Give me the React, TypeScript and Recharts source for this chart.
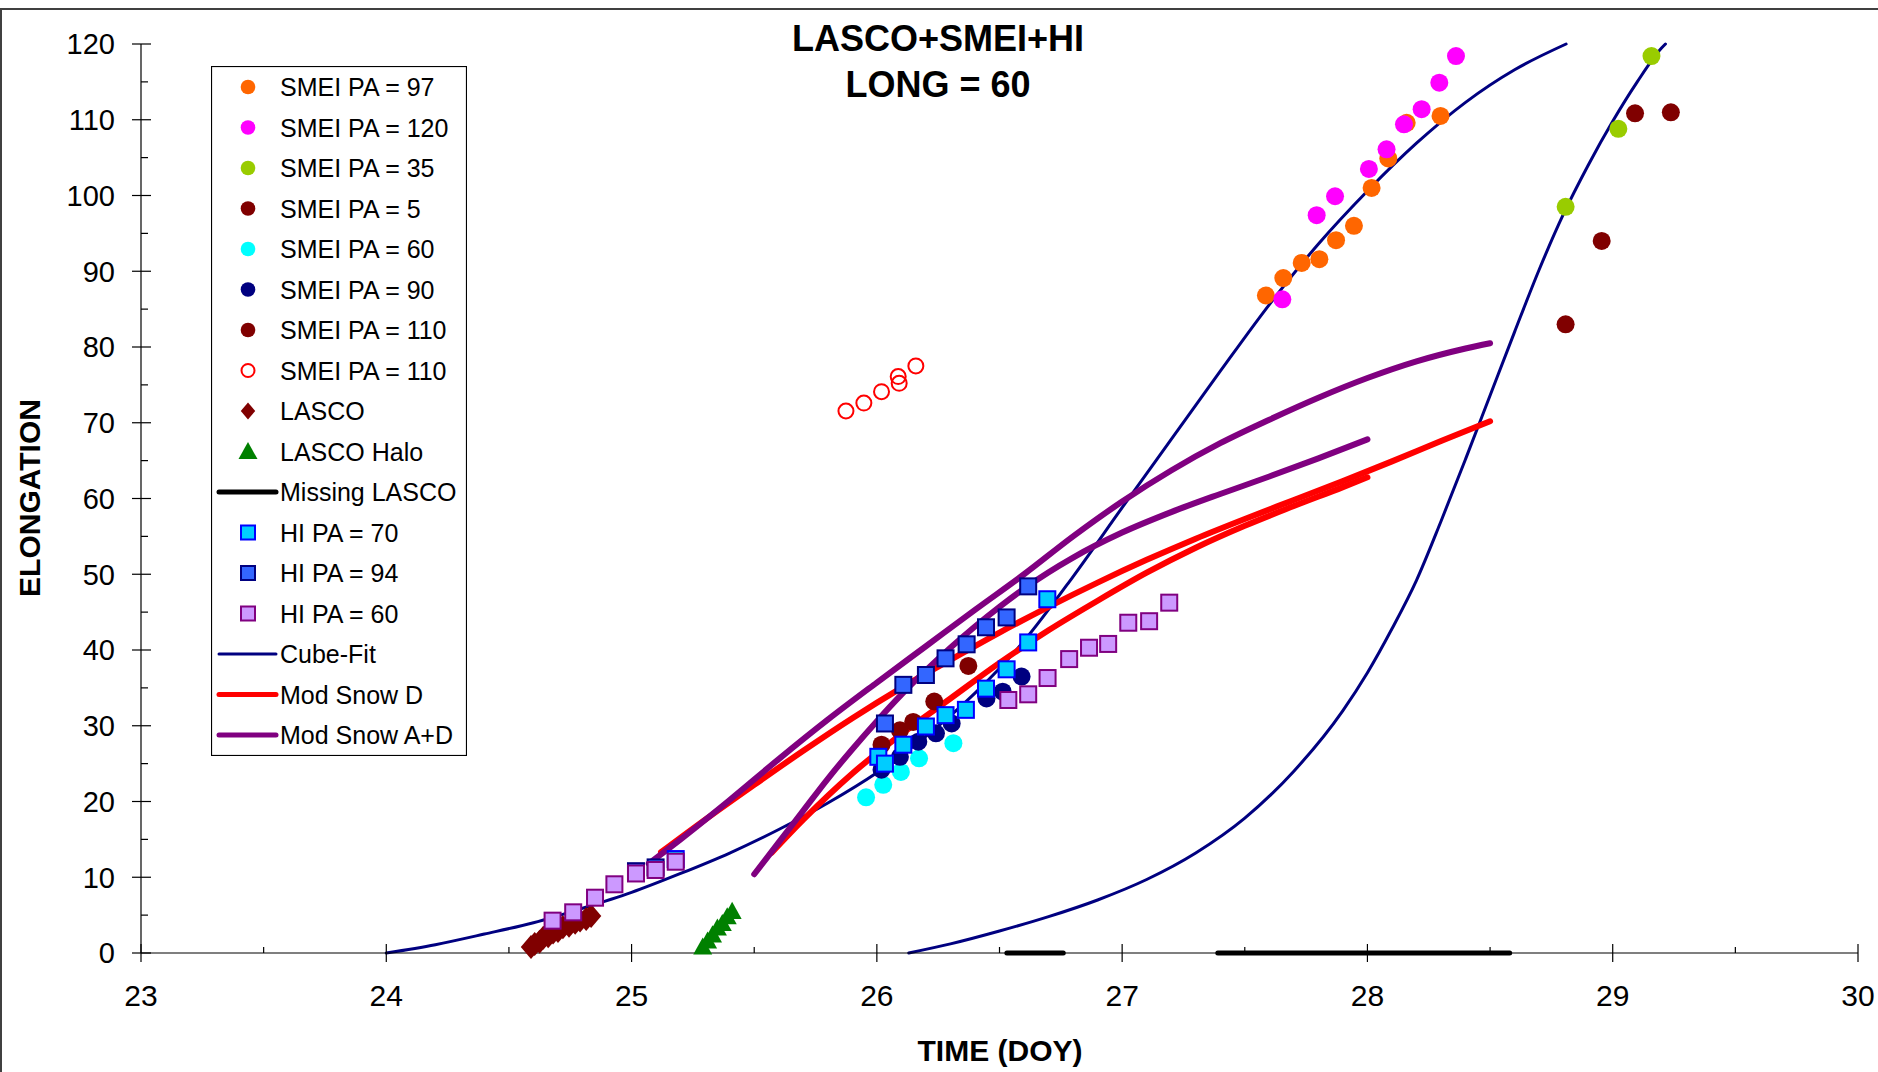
import React from 'react';
import { ComposedChart, Line, Scatter, XAxis, YAxis, Legend } from 'recharts';

// ---------- tick values ----------
const xTicks = [23, 23.5, 24, 24.5, 25, 25.5, 26, 26.5, 27, 27.5, 28, 28.5, 29, 29.5, 30];
const yTicks = [0, 5, 10, 15, 20, 25, 30, 35, 40, 45, 50, 55, 60, 65, 70, 75, 80, 85, 90, 95, 100, 105, 110, 115, 120];

// ---------- SMEI series ----------
const smeiPa97 = [
  { x: 27.586, y: 86.8 }, { x: 27.657, y: 89.1 }, { x: 27.732, y: 91.1 }, { x: 27.804, y: 91.6 },
  { x: 27.872, y: 94.1 }, { x: 27.945, y: 96.0 }, { x: 28.017, y: 101.0 }, { x: 28.085, y: 104.9 },
  { x: 28.16, y: 109.6 }, { x: 28.298, y: 110.5 },
];
const smeiPa120 = [
  { x: 27.653, y: 86.3 }, { x: 27.793, y: 97.4 }, { x: 27.868, y: 99.9 }, { x: 28.006, y: 103.5 },
  { x: 28.078, y: 106.1 }, { x: 28.149, y: 109.4 }, { x: 28.221, y: 111.4 }, { x: 28.293, y: 114.9 },
  { x: 28.361, y: 118.4 },
];
const smeiPa35 = [{ x: 28.808, y: 98.5 }, { x: 29.023, y: 108.8 }, { x: 29.158, y: 118.4 }];
const smeiPa5 = [
  { x: 26.019, y: 27.5 }, { x: 26.094, y: 29.4 }, { x: 26.148, y: 30.5 }, { x: 26.234, y: 33.2 },
  { x: 26.373, y: 37.9 },
];
const smeiPa60 = [
  { x: 25.956, y: 20.55 }, { x: 26.026, y: 22.2 }, { x: 26.098, y: 23.9 }, { x: 26.172, y: 25.7 },
  { x: 26.312, y: 27.7 },
];
const smeiPa90 = [
  { x: 26.019, y: 24.2 }, { x: 26.094, y: 25.9 }, { x: 26.169, y: 27.9 }, { x: 26.241, y: 29.0 },
  { x: 26.305, y: 30.3 }, { x: 26.447, y: 33.6 }, { x: 26.513, y: 34.5 }, { x: 26.59, y: 36.5 },
];
const smeiPa110 = [{ x: 28.808, y: 83.0 }, { x: 28.955, y: 94.0 }, { x: 29.091, y: 110.85 }, { x: 29.237, y: 110.98 }];
const smeiPa110Open = [
  { x: 25.874, y: 71.55 }, { x: 25.947, y: 72.6 }, { x: 26.019, y: 74.1 }, { x: 26.091, y: 75.2 },
  { x: 26.087, y: 76.1 }, { x: 26.159, y: 77.5 },
];

// ---------- LASCO ----------
const lasco = [
  { x: 24.59, y: 0.8 }, { x: 24.605, y: 1.2 }, { x: 24.625, y: 1.5 }, { x: 24.64, y: 2.0 },
  { x: 24.66, y: 2.2 }, { x: 24.68, y: 2.7 }, { x: 24.7, y: 2.9 }, { x: 24.72, y: 3.4 },
  { x: 24.745, y: 3.6 }, { x: 24.77, y: 4.0 }, { x: 24.79, y: 4.3 }, { x: 24.815, y: 4.5 },
  { x: 24.835, y: 4.9 },
];
const lascoHalo = [
  { x: 25.29, y: 0.8 }, { x: 25.31, y: 1.6 }, { x: 25.33, y: 2.4 }, { x: 25.35, y: 3.3 },
  { x: 25.37, y: 3.9 }, { x: 25.39, y: 4.8 }, { x: 25.41, y: 5.5 },
];
const missingLasco1 = [{ x: 26.53, y: 0 }, { x: 26.76, y: 0 }];
const missingLasco2 = [{ x: 27.39, y: 0 }, { x: 28.58, y: 0 }];

// ---------- HI ----------
const hiPa70 = [
  { x: 25.18, y: 12.4 },
  { x: 26.006, y: 25.9 }, { x: 26.033, y: 25.0 }, { x: 26.108, y: 27.5 }, { x: 26.2, y: 29.9 },
  { x: 26.28, y: 31.4 }, { x: 26.363, y: 32.1 }, { x: 26.445, y: 34.9 }, { x: 26.529, y: 37.45 },
  { x: 26.617, y: 41.0 }, { x: 26.695, y: 46.7 },
];
const hiPa94 = [
  { x: 25.018, y: 10.8 }, { x: 25.098, y: 11.3 },
  { x: 26.033, y: 30.3 }, { x: 26.108, y: 35.4 }, { x: 26.2, y: 36.7 }, { x: 26.28, y: 38.9 },
  { x: 26.366, y: 40.75 }, { x: 26.445, y: 43.0 }, { x: 26.529, y: 44.3 }, { x: 26.617, y: 48.4 },
];
const hiPa60 = [
  { x: 24.678, y: 4.27 }, { x: 24.762, y: 5.37 }, { x: 24.851, y: 7.3 }, { x: 24.93, y: 9.07 },
  { x: 25.018, y: 10.5 }, { x: 25.098, y: 10.96 }, { x: 25.18, y: 12.05 },
  { x: 26.536, y: 33.4 }, { x: 26.617, y: 34.15 }, { x: 26.696, y: 36.3 }, { x: 26.784, y: 38.8 },
  { x: 26.865, y: 40.3 }, { x: 26.943, y: 40.8 }, { x: 27.025, y: 43.6 }, { x: 27.11, y: 43.8 },
  { x: 27.192, y: 46.25 },
];

// ---------- model curves ----------
const cubeFit1 = [
  { x: 24.0, y: 0 }, { x: 24.2, y: 1.1 }, { x: 24.4, y: 2.5 }, { x: 24.6, y: 4.0 }, { x: 24.8, y: 5.9 },
  { x: 25.0, y: 8.0 }, { x: 25.2, y: 10.5 }, { x: 25.4, y: 13.2 }, { x: 25.6, y: 16.3 }, { x: 25.8, y: 19.8 },
  { x: 26.0, y: 23.8 }, { x: 26.2, y: 28.6 }, { x: 26.4, y: 34.3 }, { x: 26.6, y: 41.2 }, { x: 26.8, y: 49.7 },
  { x: 27.0, y: 58.8 }, { x: 27.2, y: 67.8 }, { x: 27.4, y: 76.8 }, { x: 27.6, y: 85.6 }, { x: 27.8, y: 93.6 },
  { x: 28.0, y: 100.6 }, { x: 28.2, y: 106.9 }, { x: 28.4, y: 112.3 }, { x: 28.6, y: 116.6 }, { x: 28.81, y: 120 },
];
const cubeFit2 = [
  { x: 26.13, y: 0 }, { x: 26.3, y: 1.2 }, { x: 26.5, y: 2.9 }, { x: 26.7, y: 4.8 }, { x: 26.9, y: 7.0 },
  { x: 27.1, y: 9.7 }, { x: 27.3, y: 13.2 }, { x: 27.5, y: 17.8 }, { x: 27.7, y: 24.0 }, { x: 27.9, y: 32.0 },
  { x: 28.0, y: 37.0 }, { x: 28.1, y: 42.8 }, { x: 28.2, y: 49.2 }, { x: 28.3, y: 57.0 }, { x: 28.4, y: 65.2 },
  { x: 28.5, y: 73.6 }, { x: 28.6, y: 82.0 }, { x: 28.7, y: 90.2 }, { x: 28.8, y: 97.6 }, { x: 28.9, y: 104.0 },
  { x: 29.0, y: 109.8 }, { x: 29.1, y: 115.0 }, { x: 29.2, y: 119.5 }, { x: 29.215, y: 120 },
];
const modSnowD1 = [
  { x: 25.12, y: 13.3 }, { x: 25.3, y: 17.6 }, { x: 25.5, y: 22.2 }, { x: 25.7, y: 26.7 }, { x: 25.9, y: 31.0 },
  { x: 26.1, y: 35.0 }, { x: 26.3, y: 38.7 }, { x: 26.5, y: 42.3 }, { x: 26.7, y: 45.7 }, { x: 26.9, y: 48.9 },
  { x: 27.1, y: 51.9 }, { x: 27.3, y: 54.7 }, { x: 27.5, y: 57.3 }, { x: 27.7, y: 59.8 }, { x: 27.9, y: 62.3 },
  { x: 28.1, y: 64.9 }, { x: 28.3, y: 67.6 }, { x: 28.5, y: 70.2 },
];
const modSnowD2 = [
  { x: 25.57, y: 13.2 }, { x: 25.7, y: 17.6 }, { x: 25.9, y: 23.7 }, { x: 26.1, y: 28.9 }, { x: 26.3, y: 33.6 },
  { x: 26.5, y: 38.3 }, { x: 26.7, y: 42.6 }, { x: 26.9, y: 46.5 }, { x: 27.1, y: 50.2 }, { x: 27.3, y: 53.5 },
  { x: 27.5, y: 56.4 }, { x: 27.7, y: 59.0 }, { x: 27.9, y: 61.5 }, { x: 28.0, y: 62.8 },
];
const modSnowAD1 = [
  { x: 25.07, y: 11.8 }, { x: 25.2, y: 15.0 }, { x: 25.4, y: 20.2 }, { x: 25.6, y: 25.6 }, { x: 25.8, y: 30.8 },
  { x: 26.0, y: 35.7 }, { x: 26.2, y: 40.5 }, { x: 26.4, y: 45.3 }, { x: 26.6, y: 50.0 }, { x: 26.8, y: 55.0 },
  { x: 27.0, y: 59.6 }, { x: 27.2, y: 63.7 }, { x: 27.4, y: 67.3 }, { x: 27.6, y: 70.4 }, { x: 27.8, y: 73.3 },
  { x: 28.0, y: 75.9 }, { x: 28.2, y: 78.1 }, { x: 28.4, y: 79.8 }, { x: 28.5, y: 80.5 },
];
const modSnowAD2 = [
  { x: 25.5, y: 10.4 }, { x: 25.6, y: 14.6 }, { x: 25.7, y: 18.8 }, { x: 25.8, y: 23.0 }, { x: 25.9, y: 26.9 },
  { x: 26.0, y: 30.6 }, { x: 26.1, y: 34.1 }, { x: 26.2, y: 37.3 }, { x: 26.3, y: 40.3 }, { x: 26.4, y: 43.1 },
  { x: 26.5, y: 45.7 }, { x: 26.6, y: 48.1 }, { x: 26.8, y: 52.2 }, { x: 27.0, y: 55.5 }, { x: 27.2, y: 58.2 },
  { x: 27.4, y: 60.6 }, { x: 27.6, y: 62.9 }, { x: 27.8, y: 65.3 }, { x: 28.0, y: 67.8 },
];

// ---------- text ----------
const titleLines = ['LASCO+SMEI+HI', 'LONG = 60'];
const xAxisTitle = 'TIME (DOY)';
const yAxisTitle = 'ELONGATION';
const legendLabels = [
  'SMEI PA = 97', 'SMEI PA = 120', 'SMEI PA = 35', 'SMEI PA = 5', 'SMEI PA = 60', 'SMEI PA = 90',
  'SMEI PA = 110', 'SMEI PA = 110', 'LASCO', 'LASCO Halo', 'Missing LASCO', 'HI PA = 70', 'HI PA = 94',
  'HI PA = 60', 'Cube-Fit', 'Mod Snow D', 'Mod Snow A+D',
];

// ---------- styles ----------
const FONT = "Arial, 'Liberation Sans', sans-serif";
const C = {
  orange: '#FF6600', magenta: '#FF00FF', lime: '#99CC00', maroon: '#800000', cyan: '#00FFFF',
  navy: '#000080', red: '#FF0000', green: '#008000', hi70: '#00CCFF', hi70s: '#0000FF',
  hi94: '#3366FF', hi94s: '#000080', hi60: '#CC99FF', hi60s: '#800080', purple: '#800080',
};
const legendStyles = [
  { kind: 'circle', fill: C.orange }, { kind: 'circle', fill: C.magenta }, { kind: 'circle', fill: C.lime },
  { kind: 'circle', fill: C.maroon }, { kind: 'circle', fill: C.cyan }, { kind: 'circle', fill: C.navy },
  { kind: 'circle', fill: C.maroon }, { kind: 'open', stroke: C.red }, { kind: 'diamond', fill: C.maroon },
  { kind: 'triangle', fill: C.green }, { kind: 'line', stroke: '#000', w: 5 },
  { kind: 'square', fill: C.hi70, stroke: C.hi70s }, { kind: 'square', fill: C.hi94, stroke: C.hi94s },
  { kind: 'square', fill: C.hi60, stroke: C.hi60s }, { kind: 'line', stroke: C.navy, w: 3 },
  { kind: 'line', stroke: C.red, w: 5 }, { kind: 'line', stroke: C.purple, w: 5 },
];

const Sym = ({ s, cx, cy, small }: any) => {
  if (s.kind === 'circle') return <circle cx={cx} cy={cy} r={small ? 7.3 : 9} fill={s.fill} />;
  if (s.kind === 'open') return <circle cx={cx} cy={cy} r={small ? 6.5 : 7.5} fill="none" stroke={s.stroke} strokeWidth={2} />;
  if (s.kind === 'square') {
    const h = small ? 7 : 8;
    return <rect x={cx - h} y={cy - h} width={2 * h} height={2 * h} fill={s.fill} stroke={s.stroke} strokeWidth={2} />;
  }
  if (s.kind === 'diamond') {
    const h = small ? 8.5 : 12;
    return <path d={`M${cx},${cy - h}L${cx + h * 0.85},${cy}L${cx},${cy + h}L${cx - h * 0.85},${cy}Z`} fill={s.fill} />;
  }
  if (s.kind === 'triangle') {
    const h = 9.5;
    return <path d={`M${cx},${cy - h}L${cx + h},${cy + h * 0.8}L${cx - h},${cy + h * 0.8}Z`} fill={s.fill} />;
  }
  return null;
};

const shape = (s: any) => (p: any) => <Sym s={s} cx={p.cx} cy={p.cy} />;

const YTick = (props: any) => {
  const { x, y, payload } = props;
  const v = payload.value;
  const major = v % 10 === 0;
  return (
    <g>
      {major ? (
        <line x1={x - 9} x2={x + 10} y1={y} y2={y} stroke="#000" strokeWidth={1.2} />
      ) : (
        <line x1={x} x2={x + 7} y1={y} y2={y} stroke="#000" strokeWidth={1.2} />
      )}
      {major && (
        <text x={x - 26} y={y} dy="0.36em" textAnchor="end" fontSize={29} fontFamily={FONT} fill="#000">
          {v}
        </text>
      )}
    </g>
  );
};

const XTick = (props: any) => {
  const { x, y, payload } = props;
  const v = payload.value;
  const major = Number.isInteger(v);
  return (
    <g>
      {major ? (
        <line x1={x} x2={x} y1={y - 9} y2={y + 9} stroke="#000" strokeWidth={1.2} />
      ) : (
        <line x1={x} x2={x} y1={y - 6} y2={y} stroke="#000" strokeWidth={1.2} />
      )}
      {major && (
        <text x={x} y={y + 53} textAnchor="middle" fontSize={30} fontFamily={FONT} fill="#000">
          {v}
        </text>
      )}
    </g>
  );
};

const LegendBox = () => {
  const W = 256;
  const H = 690;
  return (
    <svg width={W} height={H} style={{ display: 'block' }}>
      <rect x={0.5} y={0.5} width={W - 1} height={H - 1} fill="#fff" stroke="#000" strokeWidth={1.2} />
      {legendLabels.map((lab, i) => {
        const cy = 21 + i * 40.5;
        const s = legendStyles[i];
        return (
          <g key={i}>
            {s.kind === 'line' ? (
              <line x1={8} x2={65} y1={cy} y2={cy} stroke={s.stroke} strokeWidth={s.w} strokeLinecap="round" />
            ) : (
              <Sym s={s} cx={37} cy={cy} small />
            )}
            <text x={69} y={cy} dy="0.36em" fontSize={25} fontFamily={FONT} fill="#000">
              {lab}
            </text>
          </g>
        );
      })}
    </svg>
  );
};

const lineCommon = { type: 'monotone' as const, dataKey: 'y', dot: false, activeDot: false, isAnimationActive: false, strokeLinecap: 'round' as const, legendType: 'none' as const };

export default function App() {
  return (
    <div style={{ position: 'absolute', left: 0, top: 0, width: 1878, height: 1072, background: '#fff', overflow: 'hidden' }}>
      <ComposedChart width={1878} height={1072} margin={{ top: 44, right: 20, bottom: 59, left: 81 }}>
        <XAxis
          type="number"
          dataKey="x"
          domain={[23, 30]}
          ticks={xTicks}
          interval={0}
          tickSize={0}
          tickMargin={0}
          tick={<XTick />}
          height={60}
          axisLine={{ stroke: '#000', strokeWidth: 1.2 }}
          tickLine={false}
        />
        <YAxis
          type="number"
          dataKey="y"
          domain={[0, 120]}
          ticks={yTicks}
          interval={0}
          tickSize={0}
          tickMargin={0}
          tick={<YTick />}
          width={60}
          axisLine={{ stroke: '#000', strokeWidth: 1.2 }}
          tickLine={false}
        />
        <Legend
          layout="vertical"
          align="center"
          verticalAlign="middle"
          content={() => <LegendBox />}
          wrapperStyle={{ position: 'absolute', left: 211, top: 66, width: 256, height: 690 }}
        />

        <Line {...lineCommon} data={cubeFit1} stroke={C.navy} strokeWidth={3} name="Cube-Fit" />
        <Line {...lineCommon} data={cubeFit2} stroke={C.navy} strokeWidth={3} name="Cube-Fit 2" />
        <Line {...lineCommon} data={modSnowD1} stroke={C.red} strokeWidth={6} name="Mod Snow D" />
        <Line {...lineCommon} data={modSnowD2} stroke={C.red} strokeWidth={6} name="Mod Snow D 2" />
        <Line {...lineCommon} data={modSnowAD1} stroke={C.purple} strokeWidth={6} name="Mod Snow A+D" />
        <Line {...lineCommon} data={modSnowAD2} stroke={C.purple} strokeWidth={6} name="Mod Snow A+D 2" />
        <Line {...lineCommon} type="linear" data={missingLasco1} stroke="#000" strokeWidth={5} name="Missing LASCO" />
        <Line {...lineCommon} type="linear" data={missingLasco2} stroke="#000" strokeWidth={5} name="Missing LASCO 2" />

        <Scatter data={lasco} shape={shape(legendStyles[8])} isAnimationActive={false} legendType="none" />
        <Scatter data={lascoHalo} shape={shape(legendStyles[9])} isAnimationActive={false} legendType="none" />
        <Scatter data={smeiPa97} shape={shape(legendStyles[0])} isAnimationActive={false} legendType="none" />
        <Scatter data={smeiPa120} shape={shape(legendStyles[1])} isAnimationActive={false} legendType="none" />
        <Scatter data={smeiPa35} shape={shape(legendStyles[2])} isAnimationActive={false} legendType="none" />
        <Scatter data={smeiPa5} shape={shape(legendStyles[3])} isAnimationActive={false} legendType="none" />
        <Scatter data={smeiPa60} shape={shape(legendStyles[4])} isAnimationActive={false} legendType="none" />
        <Scatter data={smeiPa90} shape={shape(legendStyles[5])} isAnimationActive={false} legendType="none" />
        <Scatter data={smeiPa110} shape={shape(legendStyles[6])} isAnimationActive={false} legendType="none" />
        <Scatter data={smeiPa110Open} shape={shape(legendStyles[7])} isAnimationActive={false} legendType="none" />
        <Scatter data={hiPa94} shape={shape(legendStyles[12])} isAnimationActive={false} legendType="none" />
        <Scatter data={hiPa70} shape={shape(legendStyles[11])} isAnimationActive={false} legendType="none" />
        <Scatter data={hiPa60} shape={shape(legendStyles[13])} isAnimationActive={false} legendType="none" />
      </ComposedChart>

      <svg width={1878} height={1072} style={{ position: 'absolute', left: 0, top: 0, pointerEvents: 'none' }}>
        <rect x={1} y={9} width={1920} height={1120} fill="none" stroke="#404040" strokeWidth={2} />
        <text x={938} y={51} textAnchor="middle" fontSize={36} fontWeight="bold" fontFamily={FONT} fill="#000">
          {titleLines[0]}
        </text>
        <text x={938} y={97} textAnchor="middle" fontSize={36} fontWeight="bold" fontFamily={FONT} fill="#000">
          {titleLines[1]}
        </text>
        <text x={1000} y={1061} textAnchor="middle" fontSize={30} fontWeight="bold" fontFamily={FONT} fill="#000">
          {xAxisTitle}
        </text>
        <text
          x={40}
          y={498}
          transform="rotate(-90 40 498)"
          textAnchor="middle"
          fontSize={30}
          fontWeight="bold"
          fontFamily={FONT}
          fill="#000"
        >
          {yAxisTitle}
        </text>
      </svg>
    </div>
  );
}
